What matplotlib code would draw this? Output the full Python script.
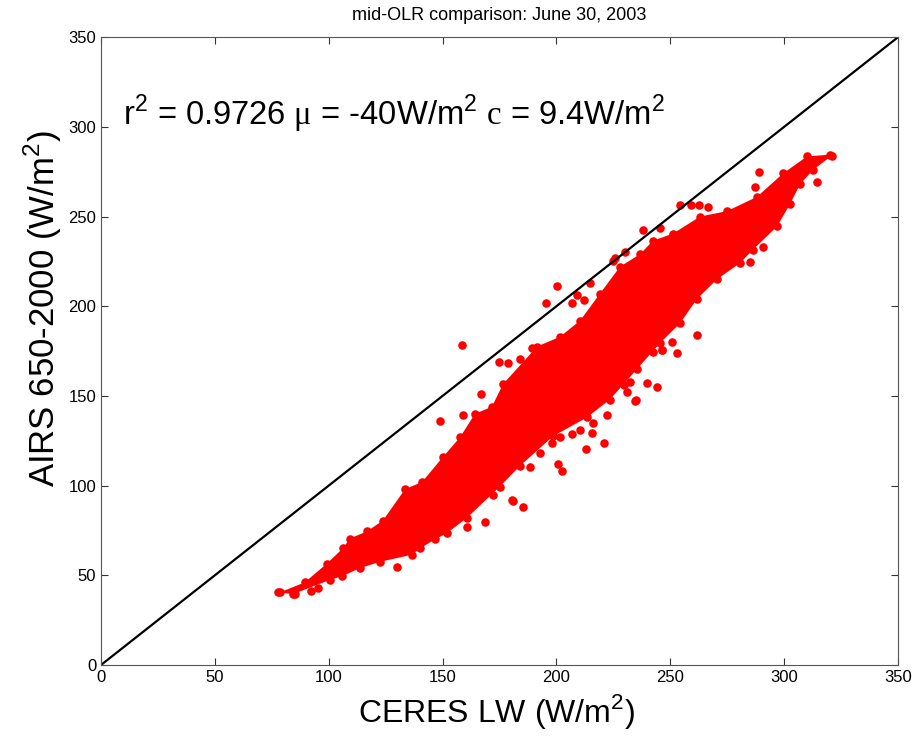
import matplotlib
matplotlib.use('Agg')
import matplotlib.pyplot as plt
import numpy as np

plt.rcParams['font.family'] = ['Liberation Sans', 'DejaVu Sans']
plt.rcParams['mathtext.fontset'] = 'custom'
plt.rcParams['mathtext.rm'] = 'Liberation Sans'
plt.rcParams['mathtext.sf'] = 'Liberation Serif'

# dense core of the cloud: upper edge (left to right), lower edge (right to left)
ceres_upper = [78.6, 89.4, 99.2, 106.2, 109.3, 116.8, 123.8, 133.5, 141.0, 150.2, 157.7,
               164.2, 171.7, 176.5, 191.5, 201.6, 210.4, 219.1, 227.9, 236.7, 242.4,
               251.2, 263.1, 274.9, 288.1, 299.5, 310.0, 320.1]
airs_upper = [40.5, 46.0, 56.5, 65.0, 70.5, 74.5, 80.5, 98.0, 102.0, 116.0, 127.0,
              140.0, 144.0, 156.5, 177.5, 183.0, 192.0, 207.0, 222.0, 229.0, 236.5,
              240.5, 250.0, 253.0, 261.0, 274.0, 283.5, 284.5]
ceres_lower = [321.0, 312.7, 307.0, 302.6, 296.9, 286.3, 280.6, 270.5, 261.7, 254.3, 245.5,
               235.4, 223.5, 213.4, 198.5, 184.0, 175.2, 160.7, 151.9, 146.7, 140.1, 136.6,
               122.5, 113.7, 106.0, 100.6, 84.3, 77.7]
airs_lower = [284.0, 276.0, 268.0, 257.0, 244.5, 231.5, 224.0, 215.0, 204.0, 190.5, 179.5,
              165.0, 148.0, 138.0, 127.5, 111.0, 99.5, 82.0, 73.5, 70.0, 65.0, 61.5,
              57.5, 54.0, 49.5, 47.5, 39.5, 40.5]

# scattered points outside the core
ceres_out = [158.5, 148.9, 195.4, 200.3, 220.9, 215.6, 213.0, 202.4, 200.7, 185.3, 180.9,
             174.8, 166.9, 234.9, 231.0, 238.0, 254.3, 289.0, 287.2, 314.4, 290.7, 285.0,
             261.7, 253.0, 244.2, 234.5, 130.0, 225.7, 230.1, 214.7, 209.0, 245.5, 266.6,
             250.8, 246.4, 239.8, 168.6, 172.1, 180.5, 160.7, 149.8, 225.0, 259.2,
             262.7, 207.0, 212.0, 242.4, 246.4, 229.5, 232.5, 85.0, 92.0, 95.5,
             178.7, 184.0, 189.3, 159.0, 201.6, 206.8, 210.4, 216.1, 222.2, 198.1,
             192.8, 188.4]
airs_out = [178.3, 136.0, 201.7, 211.2, 123.7, 129.3, 120.4, 108.1, 112.0, 88.1, 91.4,
            168.9, 151.0, 147.7, 152.1, 242.4, 256.4, 274.8, 266.4, 269.2, 233.0, 224.6,
            183.9, 173.9, 154.9, 147.1, 54.6, 226.8, 230.2, 212.9, 206.2, 243.5, 255.3,
            180.0, 175.6, 157.2, 79.7, 94.7, 92.0, 76.9, 76.4, 225.0, 256.4,
            256.4, 202.0, 203.5, 174.5, 175.5, 156.0, 158.0, 39.5, 41.0, 43.0,
            168.3, 170.5, 176.7, 139.3, 127.1, 128.7, 131.0, 134.9, 139.3, 123.7,
            118.2, 110.3]

fig = plt.figure(figsize=(9.24, 7.43), dpi=100)
ax = fig.add_axes([0.1093, 0.105, 0.8626, 0.845])

ax.fill(ceres_upper + ceres_lower, airs_upper + airs_lower, color='red', lw=0)
ax.scatter(ceres_upper + ceres_lower, airs_upper + airs_lower, s=38, color='red', lw=0)
ax.scatter(ceres_out, airs_out, s=38, color='red', lw=0)
ax.plot([0, 350], [0, 350], 'k-', lw=1.6)

ax.set_xlim(0, 350)
ax.set_ylim(0, 350)
ax.set_xticks(np.arange(0, 351, 50))
ax.set_yticks(np.arange(0, 351, 50))
ax.tick_params(direction='in', length=5, top=True, right=True, labelsize=12,
               colors='#333333', labelcolor='black')
for s in ax.spines.values():
    s.set_color('#555555')

ax.set_xlabel('CERES LW (W/m$^2$)', fontsize=23)
ax.xaxis.set_label_coords(0.496, -0.043)
ax.set_ylabel('AIRS 650-2000 (W/m$^2$)', fontsize=25)
ax.yaxis.set_label_coords(-0.046, 0.567)
ax.set_title('mid-OLR comparison: June 30, 2003', fontsize=13, pad=12)
ax.text(9.5, 301, r'r$^2$ = 0.9726 $\mathsf{\mu}$ = -40W/m$^2$ $\mathsf{c}$ = 9.4W/m$^2$',
        fontsize=23.6, va='baseline')

plt.savefig('out.png', dpi=100)
